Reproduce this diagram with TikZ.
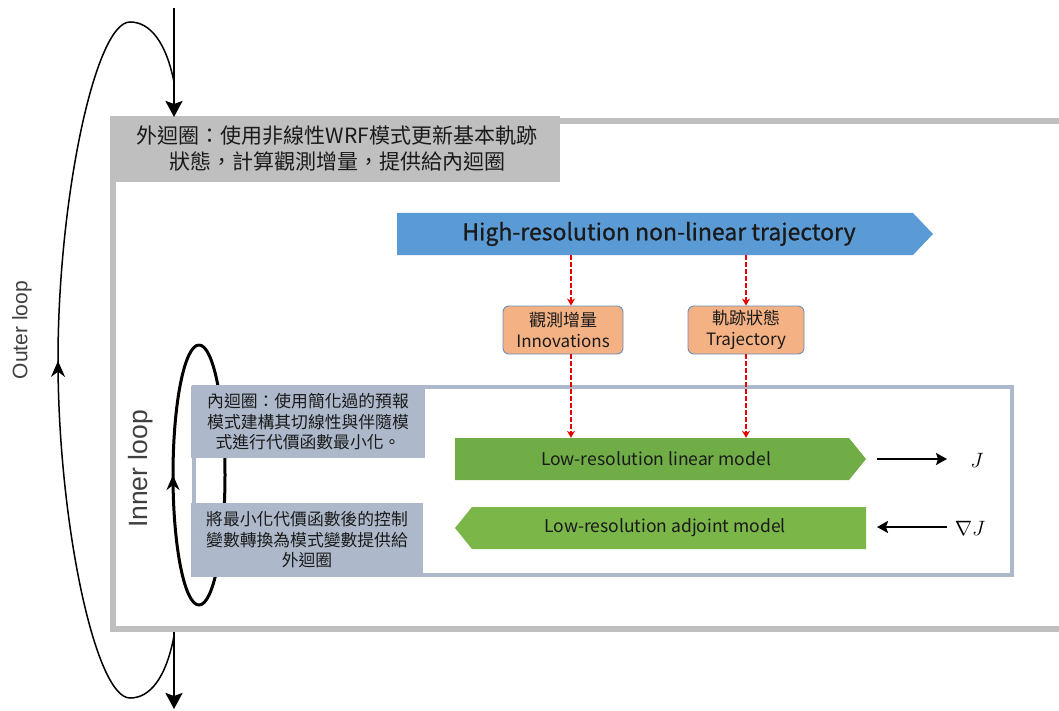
\documentclass[tikz,border=0pt]{standalone}
\usepackage{fontspec}
\setmainfont{Noto Sans CJK TC}[Language=Chinese Traditional]
\newfontfamily\titlefont{Noto Sans CJK TC}[FakeBold=0.8]
\newfontfamily\lsans{Liberation Sans}
\usetikzlibrary{arrows.meta,calc,decorations.markings}
\definecolor{gframe}{HTML}{BFBFBF}
\definecolor{hiblue}{HTML}{5B9BD5}
\definecolor{orng}{HTML}{F4B183}
\definecolor{orngb}{HTML}{6A8DB8}
\definecolor{ibf}{HTML}{ADB9CA}
\definecolor{grn}{HTML}{70AD47}
\definecolor{grn2}{HTML}{7AB648}
\definecolor{txt}{HTML}{1A1A1A}
\definecolor{loopt}{HTML}{404040}
\begin{document}
\begin{tikzpicture}[x=1pt,y=-1pt,
  hdr/.style={font=\fontsize{21}{26}\selectfont, align=center, text=txt, inner sep=0},
  lbl/.style={fill=ibf, font=\fontsize{16.8}{20.5}\selectfont, align=center, text=txt, inner sep=0},
  obox/.style={draw=orngb, line width=0.9pt, fill=orng, rounded corners=6pt, font=\fontsize{17}{21}\selectfont, align=center, text=txt, inner sep=0, minimum height=48pt},
  bandtext/.style={font=\fontsize{17.5}{20}\selectfont, text=txt, inner sep=0, minimum height=42pt},
  reddash/.style={red!90!black, line width=1.8pt, dash pattern=on 4.5pt off 2.5pt, -{Stealth[length=7pt,width=8pt]}},
  bigarrow/.style={line width=2.5pt, -{Stealth[length=16pt,width=17pt,inset=3pt]}},
  jarrow/.style={line width=2pt, -{Stealth[length=11pt,width=12pt,inset=2pt]}},
  looplabel/.style={text=loopt, rotate=90, inner sep=0}
]
\fill[white] (0,0) rectangle (1059,711);
\useasboundingbox (0,0) rectangle (1059,711);

% outer loop curve
\draw[line width=1.5pt, decoration={markings, mark=at position 0.5 with {\arrowreversed{Stealth[length=16pt,width=14pt]}}}, postaction={decorate}]
  (174,82) .. controls (166,42) and (150,22) .. (130,22)
  .. controls (95,22) and (58,200) .. (58,360)
  .. controls (58,520) and (95,698) .. (130,698)
  .. controls (150,698) and (166,678) .. (174,636);

% outer frame
\draw[gframe, line width=6pt] (113,121) rectangle (1080,629);
\fill[gframe] (110,116) rectangle (560,182);
\node[hdr] (outer) at (337,149) {外迴圈：使用非線性WRF模式更新基本軌跡\\狀態，計算觀測增量，提供給內迴圈};

% vertical arrows
\coordinate (topin) at (174,8);
\coordinate (topend) at (174,117);
\coordinate (botstart) at (174,632);
\coordinate (botend) at (174,709);
\draw[bigarrow] (topin) -- (topend);
\draw[bigarrow] (botstart) -- (botend);

\node[looplabel, font=\lsans\fontsize{21}{24}\selectfont] (outerlbl) at (22,330) {Outer loop};

% inner loop
\draw[line width=3pt, decoration={markings, mark=at position 0.25 with {\arrowreversed{Stealth[length=15pt,width=13pt]}}}, postaction={decorate}]
  (199,345) .. controls (184.6,345) and (173,403) .. (173,475)
  .. controls (173,547) and (184.6,605) .. (199,605)
  .. controls (213.4,605) and (225,547) .. (225,475)
  .. controls (225,403) and (213.4,345) .. (199,345);
\node[looplabel, font=\lsans\fontsize{26.5}{30}\selectfont] (innerlbl) at (141,469) {Inner loop};

% inner frame
\draw[ibf, line width=4pt] (194,387) rectangle (1012,575);
\node[lbl, minimum width=234pt, minimum height=72pt] (lab1) at (308,422) {內迴圈：使用簡化過的預報\\模式建構其切線性與伴隨模\\式進行代價函數最小化。};
\node[lbl, minimum width=232pt, minimum height=74pt] (lab2) at (307,540) {將最小化代價函數後的控制\\變數轉換為模式變數提供給\\外迴圈};

% high-resolution band
\fill[hiblue] (397,213) -- (913,213) -- (933,234) -- (913,255) -- (397,255) -- cycle;
\node[font=\titlefont\fontsize{23}{26}\selectfont, text=txt, inner sep=0, minimum height=42pt] (hires) at (659,234) {High-resolution non-linear trajectory};

% orange boxes
\node[obox, minimum width=120pt] (inno) at (563,330) {觀測增量\\Innovations};
\node[obox, minimum width=116pt] (traj) at (746,330) {軌跡狀態\\Trajectory};

% green bands
\fill[grn] (455,438) -- (849,438) -- (866,459) -- (849,480) -- (455,480) -- cycle;
\node[bandtext] (lin) at (656,459) {Low-resolution linear model};
\fill[grn2] (472,507) -- (866,507) -- (866,549) -- (472,549) -- (455,528) -- cycle;
\node[bandtext] (adj) at (665,528) {Low-resolution adjoint model};

% red dashed connectors
\coordinate (ia) at ($(inno.north)+(8,0)$);
\coordinate (ib) at ($(inno.south)+(8,0)$);
\draw[reddash] (hires.south -| ia) -- (ia);
\draw[reddash] (ib) -- (lin.north -| ib);
\draw[reddash] (hires.south -| traj.north) -- (traj.north);
\draw[reddash] (traj.south) -- (lin.north -| traj.south);

% J outputs
\node[font=\fontsize{20}{24}\selectfont, inner sep=0] (J) at (977,460) {$J$};
\node[font=\fontsize{20}{24}\selectfont, inner sep=0] (gJ) at (970,528) {$\nabla J$};
\coordinate (ja) at (877,459);
\coordinate (jb) at (947,459);
\coordinate (ga) at (947,527);
\coordinate (gb) at (877,527);
\draw[jarrow] (ja) -- (jb);
\draw[jarrow] (ga) -- (gb);
\end{tikzpicture}
\end{document}
